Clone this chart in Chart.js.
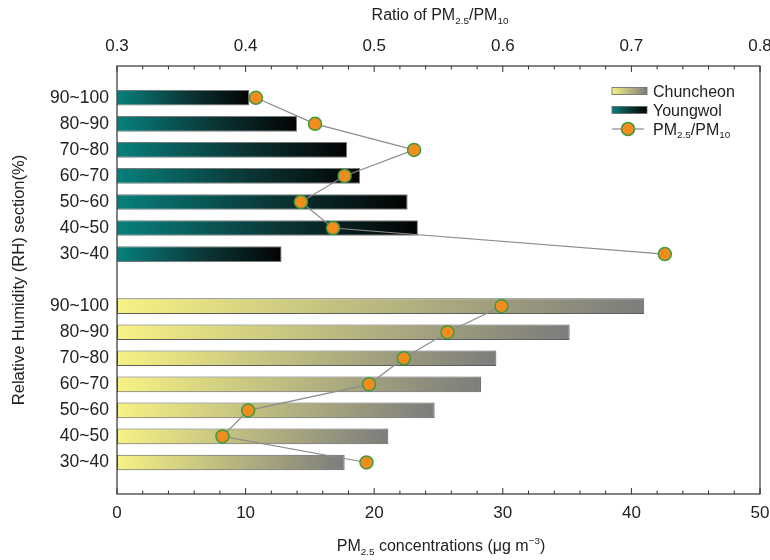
<!DOCTYPE html>
<html>
<head>
<meta charset="utf-8">
<script src="https://cdn.jsdelivr.net/npm/chart.js@4.4.1/dist/chart.umd.min.js"></script>
<style>
  body { margin: 0; background: #fff; }
  #wrap { width: 770px; height: 560px; }
</style>
</head>
<body>
<div id="wrap"><canvas id="chart" width="770" height="560"></canvas></div>
<script>
// relative humidity sections, top to bottom in each group
const rhLabels = ['90~100', '80~90', '70~80', '60~70', '50~60', '40~50', '30~40'];

// PM2.5 concentrations (ug m-3)
const youngwolPM = [10.3, 14.0, 17.9, 18.9, 22.6, 23.4, 12.8];
const chuncheonPM = [41.0, 35.2, 29.5, 28.3, 24.7, 21.1, 17.7];

// ratio of PM2.5 / PM10
const youngwolRatio = [0.408, 0.454, 0.531, 0.477, 0.443, 0.468, 0.726];
const chuncheonRatio = [0.599, 0.557, 0.523, 0.496, 0.402, 0.382, 0.494];

// row index on the y axis: Youngwol block, one empty row, Chuncheon block
const youngwolRows = rhLabels.map((l, i) => i);
const chuncheonRows = rhLabels.map((l, i) => i + rhLabels.length + 1);

const rowLabel = {};
youngwolRows.forEach((r, i) => rowLabel[r] = rhLabels[i]);
chuncheonRows.forEach((r, i) => rowLabel[r] = rhLabels[i]);

const yellowStops = [[0, '#f6f284'], [1, '#7c7c7c']];
const tealStops = [[0, '#07807c'], [0.55, '#0b3434'], [1, '#030303']];

function makeGrad(ctx, x0, x1, stops) {
  const g = ctx.createLinearGradient(x0, 0, x1, 0);
  stops.forEach(s => g.addColorStop(s[0], s[1]));
  return g;
}

function barFill(stops) {
  return function(c) {
    const chart = c.chart;
    if (!chart.chartArea || !c.raw) return stops[stops.length - 1][1];
    const xs = chart.scales.x;
    const x0 = xs.getPixelForValue(0);
    const x1 = xs.getPixelForValue(c.raw.x);
    return makeGrad(chart.ctx, x0, x1, stops);
  };
}

const pts = (vals, rows) => vals.map((v, i) => ({ x: v, y: rows[i] }));

const FONT = 'Liberation Sans, Arial, Helvetica, sans-serif';
const TXT = '#222';

// draw text with sub / superscript parts
function richText(ctx, parts, x, y, size, align) {
  let w = 0;
  parts.forEach(p => {
    ctx.font = (p.sub || p.sup ? size * 0.62 : size) + 'px ' + FONT;
    p.w = ctx.measureText(p.t).width;
    w += p.w;
  });
  let cx = align === 'center' ? x - w / 2 : x;
  ctx.textBaseline = 'alphabetic';
  ctx.textAlign = 'left';
  parts.forEach(p => {
    ctx.font = (p.sub || p.sup ? size * 0.62 : size) + 'px ' + FONT;
    let dy = 0;
    if (p.sub) dy = size * 0.22;
    if (p.sup) dy = -size * 0.42;
    ctx.fillText(p.t, cx, y + dy);
    cx += p.w;
  });
}

const decorPlugin = {
  id: 'decor',
  afterDraw(chart) {
    const ctx = chart.ctx;
    const a = chart.chartArea;
    const xs = chart.scales.x, xt = chart.scales.x2;
    ctx.save();
    // frame
    ctx.strokeStyle = '#333';
    ctx.lineWidth = 1.2;
    ctx.strokeRect(a.left, a.top, a.right - a.left, a.bottom - a.top);
    // inward ticks
    ctx.lineWidth = 1;
    ctx.beginPath();
    for (let k = 0; k <= 25; k++) {
      const len = k % 5 === 0 ? 6 : 3.5;
      const px = xs.getPixelForValue(k * 2);
      ctx.moveTo(px, a.bottom);
      ctx.lineTo(px, a.bottom - len);
      const pt = xt.getPixelForValue(0.3 + k * 0.02);
      ctx.moveTo(pt, a.top);
      ctx.lineTo(pt, a.top + len);
    }
    ctx.stroke();

    // axis titles
    ctx.fillStyle = TXT;
    richText(ctx, [{ t: 'Ratio of PM' }, { t: '2.5', sub: true }, { t: '/PM' }, { t: '10', sub: true }], 440, 20, 16, 'center');
    richText(ctx, [{ t: 'PM' }, { t: '2.5', sub: true }, { t: ' concentrations (\u03bcg m' }, { t: '\u22123', sup: true }, { t: ')' }], 441, 551, 16, 'center');
    ctx.save();
    ctx.translate(24, 280);
    ctx.rotate(-Math.PI / 2);
    richText(ctx, [{ t: 'Relative Humidity (RH) section(%)' }], 0, 0, 16.5, 'center');
    ctx.restore();

    // legend
    const lx = 612, lw = 35, tx = 653;
    const rows = [91, 110, 129];
    [[yellowStops, 'Chuncheon'], [tealStops, 'Youngwol']].forEach((it, i) => {
      const y = rows[i];
      ctx.fillStyle = makeGrad(ctx, lx, lx + lw, it[0]);
      ctx.fillRect(lx, y - 3.5, lw, 7);
      ctx.strokeStyle = '#666';
      ctx.lineWidth = 0.8;
      ctx.strokeRect(lx, y - 3.5, lw, 7);
      ctx.fillStyle = TXT;
      richText(ctx, [{ t: it[1] }], tx, y + 5.5, 16, 'left');
    });
    const y3 = rows[2];
    ctx.strokeStyle = '#8c8c8c';
    ctx.lineWidth = 1.2;
    ctx.beginPath();
    ctx.moveTo(lx, y3);
    ctx.lineTo(lx + 32, y3);
    ctx.stroke();
    ctx.beginPath();
    ctx.arc(lx + 16, y3, 6.5, 0, Math.PI * 2);
    ctx.fillStyle = '#f28c1e';
    ctx.fill();
    ctx.strokeStyle = '#3d9b3d';
    ctx.lineWidth = 1.5;
    ctx.stroke();
    ctx.fillStyle = TXT;
    richText(ctx, [{ t: 'PM' }, { t: '2.5', sub: true }, { t: '/PM' }, { t: '10', sub: true }], tx, y3 + 5.5, 16, 'left');
    ctx.restore();
  }
};

const lineStyle = {
  type: 'line',
  xAxisID: 'x2',
  yAxisID: 'y',
  indexAxis: 'y',
  borderColor: '#8c8c8c',
  borderWidth: 1.2,
  pointRadius: 6.5,
  pointHoverRadius: 6.5,
  pointBackgroundColor: '#f28c1e',
  pointBorderColor: '#3d9b3d',
  pointBorderWidth: 1.5,
  fill: false,
  tension: 0,
  order: 0
};

const barStyle = {
  type: 'bar',
  xAxisID: 'x',
  yAxisID: 'y',
  grouped: false,
  categoryPercentage: 1,
  barPercentage: 0.6,
  borderWidth: 1,
  borderSkipped: false,
  order: 1
};

// fixed axis band sizes so the plot frame sits where the original's does
function fitX(s) {
  s.height = 66;
  s.paddingLeft = 0;
  s.paddingRight = 0;
}

new Chart(document.getElementById('chart'), {
  data: {
    datasets: [
      Object.assign({ label: 'Chuncheon', data: pts(chuncheonPM, chuncheonRows), backgroundColor: barFill(yellowStops), borderColor: '#5e5e5e' }, barStyle),
      Object.assign({ label: 'Youngwol', data: pts(youngwolPM, youngwolRows), backgroundColor: barFill(tealStops), borderColor: '#7a7a7a' }, barStyle),
      Object.assign({ label: 'PM2.5/PM10 Youngwol', data: pts(youngwolRatio, youngwolRows) }, lineStyle),
      Object.assign({ label: 'PM2.5/PM10 Chuncheon', data: pts(chuncheonRatio, chuncheonRows) }, lineStyle)
    ]
  },
  options: {
    indexAxis: 'y',
    responsive: false,
    animation: false,
    layout: { padding: { left: 0, right: 10, top: 0, bottom: 0 } },
    plugins: { legend: { display: false }, tooltip: { enabled: false } },
    scales: {
      x: {
        type: 'linear', position: 'bottom', min: 0, max: 50,
        grid: { display: false, drawTicks: false },
        border: { display: false },
        ticks: { stepSize: 10, padding: 9, color: TXT, font: { family: FONT, size: 17 } },
        afterFit: fitX
      },
      x2: {
        type: 'linear', position: 'top', min: 0.3, max: 0.8,
        grid: { display: false, drawTicks: false },
        border: { display: false },
        ticks: { stepSize: 0.1, padding: 9, color: TXT, font: { family: FONT, size: 17 }, callback: v => v.toFixed(1) },
        afterFit: fitX
      },
      y: {
        type: 'linear', reverse: true, offset: false, bounds: 'data', min: -1.22, max: 15.21,
        grid: { display: false, drawTicks: false, offset: false },
        border: { display: false },
        ticks: { autoSkip: false, padding: 8, color: TXT, font: { family: FONT, size: 17.5 }, callback: v => rowLabel[v] || '' },
        afterBuildTicks: s => { s.ticks = youngwolRows.concat(chuncheonRows).map(v => ({ value: v })); },
        afterFit: s => { s.width = 117; }
      }
    }
  },
  plugins: [decorPlugin]
});
</script>
</body>
</html>
